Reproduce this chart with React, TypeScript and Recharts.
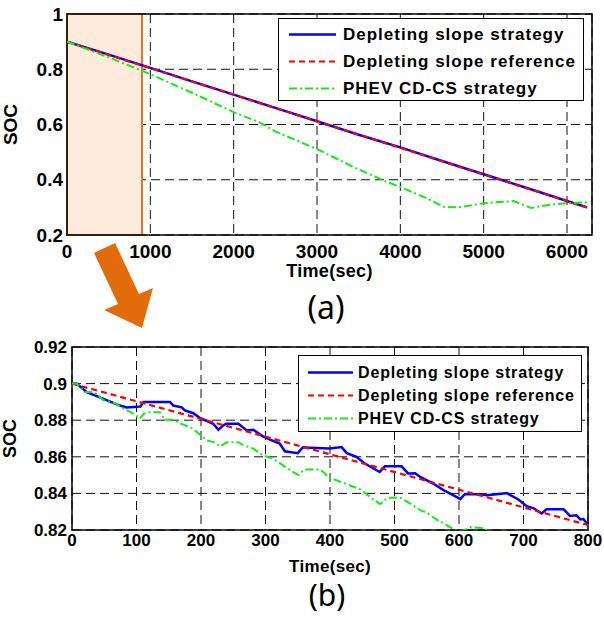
import { LineChart, Line, XAxis, YAxis, CartesianGrid, ReferenceArea, Legend, Label } from "recharts";

// (a) full drive cycle
const topTicksX = [0, 1000, 2000, 3000, 4000, 5000, 6000];
const topTicksY = [0.2, 0.4, 0.6, 0.8, 1];
const topBlueTime = [0, 500, 1000, 1500, 2000, 2500, 3000, 3500, 4000, 4500, 5000, 5500, 6000, 6240];
const topBlueSoc = [0.9, 0.853, 0.805, 0.756, 0.708, 0.66, 0.612, 0.563, 0.517, 0.468, 0.42, 0.372, 0.323, 0.3];
const topRedTime = [0, 6240];
const topRedSoc = [0.9, 0.3];
const topGreenTime = [0, 500, 1000, 1500, 2000, 2300, 2500, 3000, 3440, 3840, 4000, 4300, 4520, 4700, 5000, 5360, 5570, 5800, 6000, 6240];
const topGreenSoc = [0.9, 0.843, 0.782, 0.715, 0.645, 0.609, 0.575, 0.511, 0.446, 0.392, 0.374, 0.335, 0.302, 0.3, 0.315, 0.323, 0.298, 0.31, 0.315, 0.318];

// (b) zoom on first 800 s
const botTicksX = [0, 100, 200, 300, 400, 500, 600, 700, 800];
const botTicksY = [0.82, 0.84, 0.86, 0.88, 0.9, 0.92];
const botBlueTime = [0, 7, 23, 48, 74, 85, 106, 111, 152, 157, 170, 175, 188, 198, 219, 227, 234, 239, 258, 271, 281, 296, 307, 322, 330, 350, 358, 368, 400, 418, 426, 441, 454, 477, 485, 511, 521, 532, 540, 560, 576, 596, 602, 609, 627, 643, 669, 674, 692, 705, 715, 728, 736, 762, 772, 782, 788, 793, 800];
const botBlueSoc = [0.9, 0.9, 0.8953, 0.8918, 0.888, 0.887, 0.8875, 0.89, 0.89, 0.888, 0.887, 0.8853, 0.8838, 0.8813, 0.878, 0.8748, 0.877, 0.878, 0.878, 0.8744, 0.8748, 0.8712, 0.8694, 0.8672, 0.863, 0.862, 0.8652, 0.865, 0.8645, 0.8653, 0.862, 0.86, 0.8563, 0.8517, 0.8548, 0.8548, 0.8509, 0.851, 0.849, 0.8454, 0.8418, 0.8381, 0.8369, 0.8396, 0.8396, 0.839, 0.84, 0.8402, 0.8367, 0.833, 0.832, 0.829, 0.8314, 0.8314, 0.8277, 0.828, 0.8258, 0.826, 0.8227];
const botRedTime = [0, 800];
const botRedSoc = [0.9, 0.8227];
const botGreenTime = [0, 7, 20, 33, 41, 48, 69, 74, 100, 105, 111, 118, 136, 144, 157, 170, 188, 198, 209, 219, 230, 240, 258, 266, 281, 296, 312, 338, 351, 359, 364, 385, 392, 397, 410, 426, 447, 467, 478, 488, 500, 511, 524, 540, 550, 565, 581, 591, 601, 609, 617, 638, 650, 670];
const botGreenSoc = [0.9, 0.9, 0.8953, 0.8956, 0.8935, 0.891, 0.889, 0.8875, 0.8826, 0.8808, 0.8835, 0.8844, 0.8844, 0.8802, 0.8802, 0.878, 0.8753, 0.8722, 0.869, 0.868, 0.8657, 0.868, 0.868, 0.8663, 0.8645, 0.8608, 0.859, 0.8527, 0.85, 0.8527, 0.853, 0.853, 0.851, 0.8487, 0.8472, 0.845, 0.8422, 0.8367, 0.8342, 0.8373, 0.8378, 0.8373, 0.8345, 0.8309, 0.8294, 0.8258, 0.8227, 0.8204, 0.819, 0.82, 0.8215, 0.8211, 0.818, 0.815];

const SERIES = [
  { label: "Depleting slope strategy", color: "#0000ff", dash: undefined as string | undefined, width: 2.5 },
  { label: "Depleting slope reference", color: "#ff0000", dash: "6 4", width: 2.2 },
  { label: "PHEV CD-CS strategy", color: "#11ee11", dash: "8 3 2 3", width: 2 },
];

const FONT = "Arial, 'Liberation Sans', sans-serif";
const pts = (t: number[], v: number[]) => t.map((x, i) => ({ t: x, soc: v[i] }));

function LegendBox({ w, h, rowH, padTop, lineX0, lineX1, textX, fontSize, spacing }: any) {
  return (
    <div style={{ width: w, height: h, boxSizing: "border-box", border: "1.5px solid #000", background: "#fff", paddingTop: padTop, fontFamily: FONT }}>
      {SERIES.map((s) => (
        <div key={s.label} style={{ position: "relative", height: rowH }}>
          <svg width={lineX1 + 2} height={rowH} style={{ position: "absolute", left: 0, top: 0 }}>
            <line x1={lineX0} x2={lineX1} y1={rowH / 2} y2={rowH / 2} stroke={s.color} strokeWidth={s.width} strokeDasharray={s.dash} />
          </svg>
          <span style={{ position: "absolute", left: textX, top: 0, lineHeight: rowH + "px", fontSize, fontWeight: "bold", letterSpacing: spacing, whiteSpace: "nowrap", color: "#000" }}>
            {s.label}
          </span>
        </div>
      ))}
    </div>
  );
}

export default function App() {
  const top = [pts(topBlueTime, topBlueSoc), pts(topRedTime, topRedSoc), pts(topGreenTime, topGreenSoc)];
  const bot = [pts(botBlueTime, botBlueSoc), pts(botRedTime, botRedSoc), pts(botGreenTime, botGreenSoc)];
  const tickTop = { fontSize: 19, fontWeight: "bold", fill: "#000", fontFamily: FONT };
  const tickBot = { fontSize: 17, fontWeight: "bold", fill: "#000", fontFamily: FONT };

  return (
    <div style={{ position: "absolute", left: 0, top: 0, width: 604, height: 617, background: "#fff", overflow: "hidden" }}>
      <div style={{ position: "absolute", left: 0, top: 0 }}>
        <LineChart width={604} height={300} margin={{ top: 14, right: 12, left: 0, bottom: 0 }}>
          <CartesianGrid stroke="#111" strokeDasharray="9 5" />
          <XAxis dataKey="t" type="number" domain={[0, 6300]} ticks={topTicksX} allowDataOverflow height={65}
            tick={tickTop} tickLine={false} tickSize={0} tickMargin={10} axisLine={false}>
            <Label value="Time(sec)" position="insideTop" offset={29} style={{ fontSize: 18, fontWeight: "bold", fill: "#000", fontFamily: FONT, letterSpacing: 0.3 }} />
          </XAxis>
          <YAxis type="number" domain={[0.2, 1]} ticks={topTicksY} allowDataOverflow width={67}
            tick={tickTop} tickLine={false} tickSize={0} tickMargin={4} axisLine={false}>
            <Label value="SOC" angle={-90} position="insideLeft" offset={10} style={{ fontSize: 19, fontWeight: "bold", fill: "#000", fontFamily: FONT, textAnchor: "middle" }} />
          </YAxis>
          <ReferenceArea x1={0} x2={900} y1={0.2} y2={1} fill="#fdebdc" fillOpacity={1} stroke="#e2742a" strokeWidth={2} />
          <ReferenceArea x1={0} x2={6300} y1={0.2} y2={1} fill="none" stroke="#000" strokeWidth={1.5} />
          {SERIES.map((s, i) => (
            <Line key={s.label} data={top[i]} dataKey="soc" type="linear" stroke={s.color} strokeWidth={s.width}
              strokeDasharray={s.dash} dot={false} activeDot={false} isAnimationActive={false} />
          ))}
          <Legend layout="vertical" align="center" verticalAlign="middle"
            wrapperStyle={{ left: 278, top: 18, width: 306, height: 83 }}
            content={() => <LegendBox w={306} h={83} rowH={27} padTop={2} lineX0={10} lineX1={57} textX={64} fontSize={17} spacing={1} />} />
        </LineChart>
      </div>

      <div style={{ position: "absolute", left: 0, top: 330 }}>
        <LineChart width={604} height={287} margin={{ top: 17, right: 16, left: 0, bottom: 0 }}>
          <CartesianGrid stroke="#111" strokeDasharray="9 5" />
          <XAxis dataKey="t" type="number" domain={[0, 800]} ticks={botTicksX} allowDataOverflow height={87}
            tick={tickBot} tickLine={false} tickSize={0} tickMargin={4} axisLine={false}>
            <Label value="Time(sec)" position="insideTop" offset={30} style={{ fontSize: 17, fontWeight: "bold", fill: "#000", fontFamily: FONT, letterSpacing: 0.3 }} />
          </XAxis>
          <YAxis type="number" domain={[0.82, 0.92]} ticks={botTicksY} allowDataOverflow width={72}
            tick={tickBot} tickLine={false} tickSize={0} tickMargin={5} axisLine={false}>
            <Label value="SOC" angle={-90} position="insideLeft" offset={10} style={{ fontSize: 18, fontWeight: "bold", fill: "#000", fontFamily: FONT, textAnchor: "middle" }} />
          </YAxis>
          <ReferenceArea x1={0} x2={800} y1={0.82} y2={0.92} fill="none" stroke="#000" strokeWidth={1.5} />
          {SERIES.map((s, i) => (
            <Line key={s.label} data={bot[i]} dataKey="soc" type="linear" stroke={s.color} strokeWidth={s.width}
              strokeDasharray={s.dash} dot={false} activeDot={false} isAnimationActive={false} />
          ))}
          <Legend layout="vertical" align="center" verticalAlign="middle"
            wrapperStyle={{ left: 298, top: 25, width: 284, height: 77 }}
            content={() => <LegendBox w={284} h={77} rowH={23} padTop={5} lineX0={9} lineX1={54} textX={59} fontSize={16} spacing={0.85} />} />
        </LineChart>
      </div>

      <svg width={604} height={617} style={{ position: "absolute", left: 0, top: 0, pointerEvents: "none" }}>
        <polygon points="94,253 115,243 139,294 153,288 142,328 104,310 118,304" fill="#e36c0a" />
        <text x={326} y={319} textAnchor="middle" fontSize={32} fontFamily="'Noto Sans', sans-serif" fill="#000">(a)</text>
        <text x={327} y={606} textAnchor="middle" fontSize={30} fontFamily="'Noto Sans', sans-serif" fill="#000">(b)</text>
      </svg>
    </div>
  );
}
